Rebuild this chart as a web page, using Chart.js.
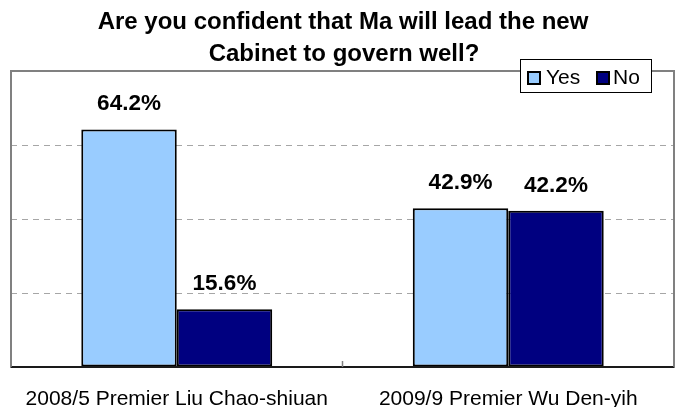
<!DOCTYPE html>
<html>
<head>
<meta charset="utf-8">
<script src="https://cdn.jsdelivr.net/npm/chart.js@4/dist/chart.umd.min.js"></script>
<style>
  html, body { margin: 0; padding: 0; background: #ffffff; }
  #wrap { width: 679px; height: 407px; }
</style>
</head>
<body>
<div id="wrap"><canvas id="c" width="679" height="407"></canvas></div>
<script>
// Survey: confidence that Ma will lead the new Cabinet to govern well
const titleLines = ['Are you confident that Ma will lead the new', 'Cabinet to govern well?'];
const categories = ['2008/5 Premier Liu Chao-shiuan', '2009/9 Premier Wu Den-yih'];
const seriesNames = ['Yes', 'No'];
const yesValues = [64.2, 42.9];
const noValues = [15.6, 42.2];
const yTicks = [0, 20, 40, 60, 80];

const yesColor = '#99CCFF';
const noColor = '#000080';
const FONT = '"Liberation Sans", Arial, sans-serif';

// Frame, axis line, category tick marks, value labels, legend and title
const decorations = {
  id: 'decorations',
  beforeDatasetsDraw(chart) {
    const { ctx, chartArea: a } = chart;
    ctx.save();
    ctx.strokeStyle = '#808080';
    ctx.lineWidth = 2;
    ctx.strokeRect(a.left, a.top, a.right - a.left, a.bottom - a.top);
    ctx.restore();
  },
  afterDatasetsDraw(chart) {
    const { ctx, chartArea: a } = chart;
    ctx.save();
    // bottom axis line
    ctx.strokeStyle = '#1a1a1a';
    ctx.lineWidth = 2;
    ctx.beginPath();
    ctx.moveTo(a.left, a.bottom);
    ctx.lineTo(a.right, a.bottom);
    ctx.stroke();
    // tick marks between categories
    ctx.strokeStyle = '#808080';
    ctx.lineWidth = 1.5;
    const n = categories.length;
    for (let i = 0; i <= n; i++) {
      const x = a.left + (a.right - a.left) * i / n;
      ctx.beginPath();
      ctx.moveTo(x, a.bottom);
      ctx.lineTo(x, a.bottom - 6);
      ctx.stroke();
    }
    // value labels
    ctx.fillStyle = '#000';
    ctx.font = 'bold 22.5px ' + FONT;
    ctx.textAlign = 'center';
    ctx.textBaseline = 'alphabetic';
    chart.data.datasets.forEach((ds, di) => {
      const meta = chart.getDatasetMeta(di);
      meta.data.forEach((bar, i) => {
        ctx.fillText(ds.data[i].toFixed(1) + '%', bar.x, bar.y - 19);
      });
    });
    ctx.restore();
  },
  afterDraw(chart) {
    const { ctx } = chart;
    ctx.save();
    // title
    ctx.fillStyle = '#000';
    ctx.font = 'bold 24px ' + FONT;
    ctx.textAlign = 'center';
    ctx.textBaseline = 'alphabetic';
    ctx.fillText(titleLines[0], 343, 29);
    ctx.fillText(titleLines[1], 344, 61);
    // legend box
    const lx = 520, ly = 59, lw = 132, lh = 34;
    ctx.fillStyle = '#fff';
    ctx.fillRect(lx, ly, lw, lh);
    ctx.strokeStyle = '#000';
    ctx.lineWidth = 1;
    ctx.strokeRect(lx + 0.5, ly + 0.5, lw - 1, lh - 1);
    const items = [
      { name: seriesNames[0], color: yesColor, sx: 527, tx: 546 },
      { name: seriesNames[1], color: noColor, sx: 596, tx: 613 }
    ];
    ctx.font = '21px ' + FONT;
    ctx.textAlign = 'left';
    ctx.textBaseline = 'middle';
    items.forEach(it => {
      ctx.fillStyle = it.color;
      ctx.fillRect(it.sx, 71, 14, 14);
      ctx.strokeStyle = '#000';
      ctx.lineWidth = 2;
      ctx.strokeRect(it.sx + 1, 72, 12, 12);
      ctx.fillStyle = '#000';
      ctx.fillText(it.name, it.tx, 78);
    });
    ctx.restore();
  }
};

new Chart(document.getElementById('c'), {
  type: 'bar',
  data: {
    labels: categories,
    datasets: [
      {
        label: seriesNames[0],
        data: yesValues,
        backgroundColor: yesColor,
        borderColor: '#000',
        borderWidth: 2,
        borderSkipped: false,
        categoryPercentage: 0.576,
        barPercentage: 1.0
      },
      {
        label: seriesNames[1],
        data: noValues,
        backgroundColor: noColor,
        borderColor: '#000',
        borderWidth: 2,
        borderSkipped: false,
        categoryPercentage: 0.576,
        barPercentage: 1.0
      }
    ]
  },
  options: {
    responsive: false,
    animation: false,
    devicePixelRatio: 1,
    layout: { padding: { left: 11, right: 5, top: 71, bottom: 0 } },
    plugins: {
      legend: { display: false },
      title: { display: false },
      tooltip: { enabled: false }
    },
    scales: {
      x: {
        grid: { display: false },
        border: { display: false },
        ticks: {
          color: '#000',
          font: { family: FONT, size: 21 },
          padding: 12,
          maxRotation: 0,
          autoSkip: false
        },
        afterFit(scale) { scale.height = 40; }
      },
      y: {
        min: yTicks[0],
        max: yTicks[yTicks.length - 1],
        afterBuildTicks(scale) { scale.ticks = yTicks.map(v => ({ value: v })); },
        ticks: { display: false },
        grid: {
          drawTicks: false,
          lineWidth: 1,
          color: c => (c.tick && (c.tick.value === 0 || c.tick.value === 80)) ? 'rgba(0,0,0,0)' : '#a6a6a6'
        },
        border: { display: false, dash: [6, 5] },
        afterFit(scale) { scale.width = 0; }
      }
    }
  },
  plugins: [decorations]
});
</script>
</body>
</html>
